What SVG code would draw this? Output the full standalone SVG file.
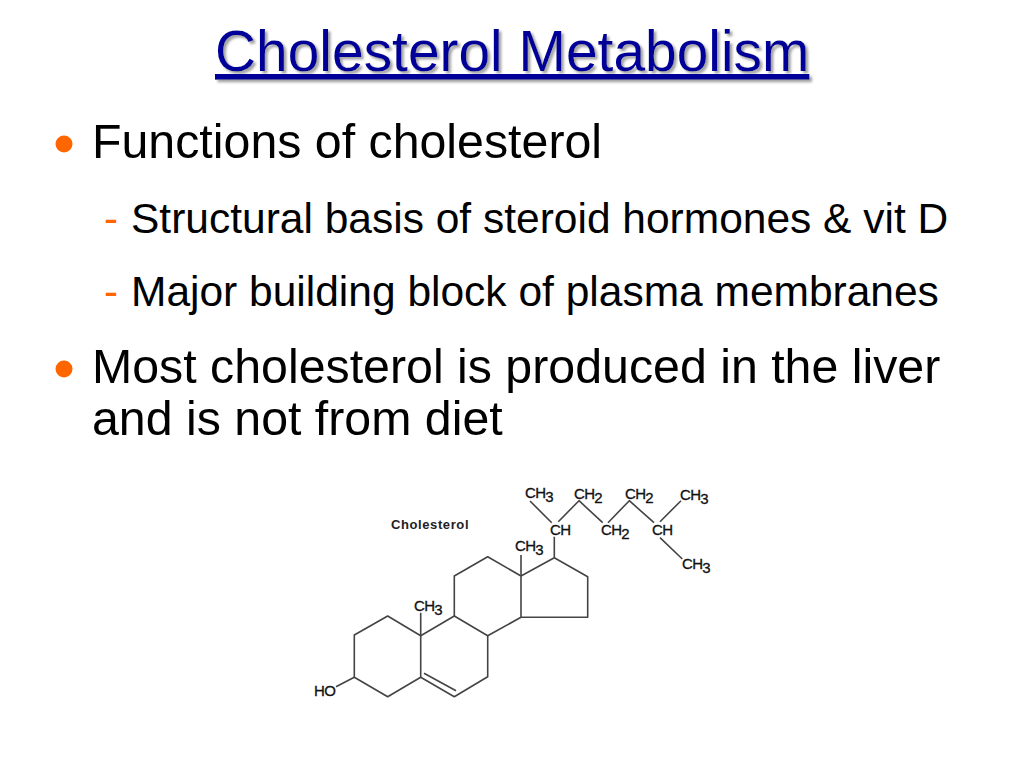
<svg xmlns="http://www.w3.org/2000/svg" width="1024" height="768" viewBox="0 0 1024 768">
<style>
text{font-family:"Liberation Sans",Arial,sans-serif}
.title{font-size:56.9px;fill:#000099;text-decoration:underline;filter:url(#shadow)}
.l1{font-size:48.3px;fill:#000}
.l2{font-size:42.5px;fill:#000}
.dash{font-size:42px;fill:#ff6600}
.bullet{fill:#ff6600}
.bond{fill:none;stroke:#444;stroke-width:1.6;stroke-linejoin:round}
.chem{font-size:15px;fill:#111;stroke:#111;stroke-width:.3;letter-spacing:-.7px}
.name{font-size:13px;font-weight:bold;fill:#222;letter-spacing:.6px}
</style>
<defs><filter id="shadow" x="-5%" y="-10%" width="110%" height="130%"><feDropShadow dx="2.5" dy="2.5" stdDeviation="1" flood-color="#999" flood-opacity=".9"/></filter></defs>
<rect width="1024" height="768" fill="#fff"/>
<text id="title" class="title" x="215" y="71">Cholesterol Metabolism</text>
<g id="body">
<circle class="bullet" cx="64" cy="144" r="8.5"/>
<text class="l1" x="92" y="158">Functions of cholesterol</text>
<text class="dash" x="104" y="233">-</text>
<text class="l2" x="131" y="233">Structural basis of steroid hormones &amp; vit D</text>
<text class="dash" x="104" y="306">-</text>
<text class="l2" x="131" y="306">Major building block of plasma membranes</text>
<circle class="bullet" cx="64" cy="369" r="8.5"/>
<text class="l1" x="92" y="383">Most cholesterol is produced in the liver</text>
<text class="l1" x="92" y="435">and is not from diet</text>
</g>
<g id="connectors">
<path class="bond" d="M354.3 635L387.7 616L420.7 635.7V677.3L387.7 696.7L354.3 677.3Z"/>
<path class="bond" d="M336 686.7L354.3 677.3M420.7 612.7V635.7"/>
<path class="bond" d="M420.7 635.7L454.3 616L487.7 635.7V676.7L454.3 696.7L420.7 677.3"/>
<path class="bond" d="M424 673.3L456 690.7"/>
<path class="bond" d="M454.3 616V576L487.7 556.7L521 576V617.3L487.7 635.7"/>
<path class="bond" d="M521 576L554.3 557.7L587.7 576.7V617.3H521M521 555V576M554.3 557.7V536.7"/>
<path class="bond" d="M530 501L551.7 522.7M558.3 521.7L579 500.7L602.7 522.7M608 522.7L629.3 500.7L654 522.7M660 521.7L681 500.7M660 537.7L682.3 559"/>
</g>
<g id="labels">
<text class="name" x="391" y="529">Cholesterol</text>
<text class="chem" x="314" y="696">HO</text>
<text class="chem" x="414" y="611">CH<tspan dy="4">3</tspan></text>
<text class="chem" x="515" y="551">CH<tspan dy="4">3</tspan></text>
<text class="chem" x="525" y="498">CH<tspan dy="4">3</tspan></text>
<text class="chem" x="574" y="499">CH<tspan dy="4">2</tspan></text>
<text class="chem" x="625" y="499">CH<tspan dy="4">2</tspan></text>
<text class="chem" x="680" y="500">CH<tspan dy="4">3</tspan></text>
<text class="chem" x="550" y="535">CH</text>
<text class="chem" x="601" y="535">CH<tspan dy="4">2</tspan></text>
<text class="chem" x="652" y="535">CH</text>
<text class="chem" x="682" y="569">CH<tspan dy="4">3</tspan></text>
</g>
</svg>
